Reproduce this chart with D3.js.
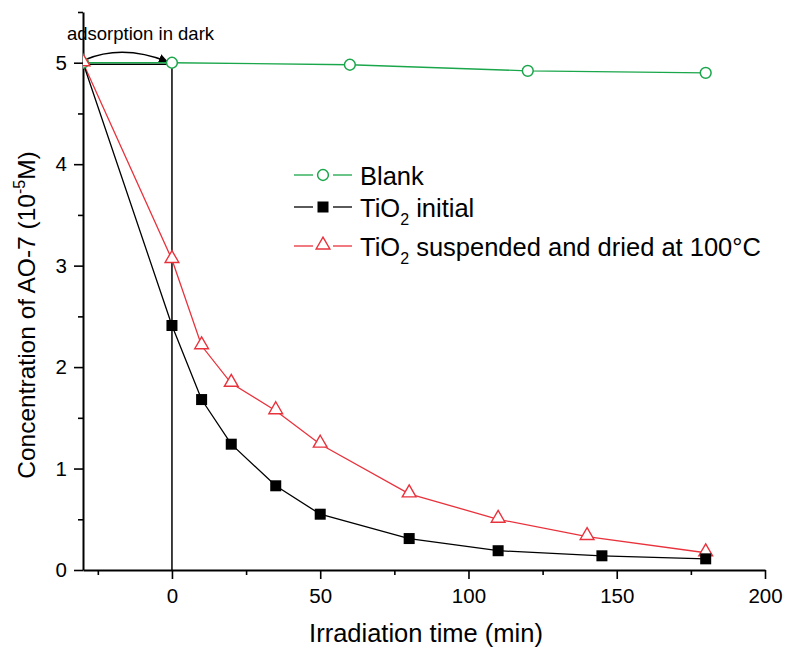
<!DOCTYPE html>
<html>
<head>
<meta charset="utf-8">
<script src="https://cdn.jsdelivr.net/npm/d3@7.9.0/dist/d3.min.js"></script>
<style>
  body { margin: 0; background: #fff; }
  svg { display: block; font-family: "Liberation Sans", Arial, sans-serif; }
</style>
</head>
<body>
<svg width="787" height="648"></svg>
<script>
// data
const blankTime = [-30, 0, 60, 120, 180];
const blankConc = [5.0, 5.0, 4.98, 4.92, 4.90];

const initialTime = [-30, 0, 10, 20, 35, 50, 80, 110, 145, 180];
const initialConc = [5.0, 2.41, 1.68, 1.24, 0.83, 0.55, 0.31, 0.19, 0.14, 0.11];

const suspTime = [-30, 0, 10, 20, 35, 50, 80, 110, 140, 180];
const suspConc = [5.0, 3.06, 2.21, 1.84, 1.57, 1.24, 0.75, 0.50, 0.33, 0.17];

const xTicks = [0, 50, 100, 150, 200];
const xMinor = [-25, 25, 75, 125, 175];
const yTicks = [0, 1, 2, 3, 4, 5];
const yMinor = [0.5, 1.5, 2.5, 3.5, 4.5, 5.5];

const green = "#1aa64a", red = "#e8323c";
const font = "'Liberation Sans', Arial, sans-serif";

let svg = d3.select("svg");

let x = d3.scaleLinear().domain([-30, 200]).range([83, 765]);
let y = d3.scaleLinear().domain([0, 5.5]).range([570, 12]);

let defs = svg.append("defs");
// arrow marker
defs.append("marker")
    .attr("id", "arr")
    .attr("viewBox", "0 0 10 10")
    .attr("refX", 10).attr("refY", 5)
    .attr("markerWidth", 6).attr("markerHeight", 6)
    .attr("orient", "auto")
    .append("path").attr("d", "M0,0 L10,5 L0,10 z").attr("fill", "#000");
// markers get cut at the left axis, like in the original plot
defs.append("clipPath").attr("id", "plotclip")
    .append("rect")
    .attr("x", x(-30)).attr("y", y(5.5))
    .attr("width", x(200) - x(-30)).attr("height", y(0) - y(5.5));

// axes
svg.append("g").attr("transform", `translate(0,${y(0)})`)
    .call(d3.axisBottom(x).tickValues(xTicks).tickFormat(d3.format("d"))
        .tickSize(9).tickSizeOuter(0).tickPadding(9));
svg.append("g").attr("transform", `translate(0,${y(0)})`)
    .call(d3.axisBottom(x).tickValues(xMinor).tickSize(5).tickFormat(""))
    .select(".domain").remove();

svg.append("g").attr("transform", `translate(${x(-30)},0)`)
    .call(d3.axisLeft(y).tickValues(yTicks).tickFormat(d3.format("d"))
        .tickSize(9).tickSizeOuter(0).tickPadding(7));
svg.append("g").attr("transform", `translate(${x(-30)},0)`)
    .call(d3.axisLeft(y).tickValues(yMinor).tickSize(5).tickFormat(""))
    .select(".domain").remove();

svg.selectAll(".domain").attr("stroke-width", 2);
svg.selectAll(".tick line").attr("stroke-width", 1.6);
svg.selectAll(".tick text").attr("font-size", 20.5).attr("fill", "#000")
    .attr("font-family", font);

// dark/irradiation divider and annotation
svg.append("line")
    .attr("x1", x(0)).attr("x2", x(0))
    .attr("y1", y(5)).attr("y2", y(0))
    .attr("stroke", "#000").attr("stroke-width", 1.5);
svg.append("line")
    .attr("x1", x(-30)).attr("x2", x(0))
    .attr("y1", y(5) + 1.5).attr("y2", y(5) + 1.5)
    .attr("stroke", "#000").attr("stroke-width", 1.5);
svg.append("path")
    .attr("d", `M${x(-30) + 2},${y(5) - 3} Q${(x(-30) + x(0)) / 2 - 5},${y(5) - 19} ${x(0) - 4},${y(5) - 1}`)
    .attr("fill", "none").attr("stroke", "#000").attr("stroke-width", 1.5)
    .attr("marker-end", "url(#arr)");
svg.append("text")
    .attr("x", 67).attr("y", 40)
    .attr("font-size", 18.5)
    .text("adsorption in dark");

// series
let line = d3.line().x(d => x(d[0])).y(d => y(d[1]));

let blank = d3.zip(blankTime, blankConc);
let initial = d3.zip(initialTime, initialConc);
let susp = d3.zip(suspTime, suspConc);

svg.append("path").datum(blank).attr("d", line)
    .attr("fill", "none").attr("stroke", green).attr("stroke-width", 1.3);
svg.append("path").datum(susp).attr("d", line)
    .attr("fill", "none").attr("stroke", red).attr("stroke-width", 1.3);
svg.append("path").datum(initial).attr("d", line)
    .attr("fill", "none").attr("stroke", "#000").attr("stroke-width", 1.3);

let tri = d3.symbol().type(d3.symbolTriangle).size(82);
let marks = svg.append("g").attr("clip-path", "url(#plotclip)");

marks.selectAll(".blank").data(blank).join("circle")
    .attr("cx", d => x(d[0])).attr("cy", d => y(d[1])).attr("r", 5.4)
    .attr("fill", "#fff").attr("stroke", green).attr("stroke-width", 1.5);
marks.selectAll(".susp").data(susp).join("path")
    .attr("d", tri)
    .attr("transform", d => `translate(${x(d[0])},${y(d[1]) - 1})`)
    .attr("fill", "#fff").attr("stroke", red).attr("stroke-width", 1.4);
// the dark-phase square is hidden under the other marks in the original
marks.selectAll(".init").data(initial.slice(1)).join("rect")
    .attr("x", d => x(d[0]) - 5.5).attr("y", d => y(d[1]) - 5.5)
    .attr("width", 11).attr("height", 11)
    .attr("fill", "#000");

// legend
const legendNames = ["Blank", "TiO", "TiO"];
const legendRest = ["", " initial", " suspended and dried at 100°C"];
const legendY = [175, 207, 246];
const legendColor = [green, "#000", red];

legendNames.forEach((name, i) => {
    let g = svg.append("g").attr("transform", `translate(294,${legendY[i]})`);
    g.append("line").attr("x1", 0).attr("x2", 19).attr("stroke", legendColor[i]).attr("stroke-width", 1.3);
    g.append("line").attr("x1", 39).attr("x2", 58).attr("stroke", legendColor[i]).attr("stroke-width", 1.3);
    if (i === 0) {
        g.append("circle").attr("cx", 29).attr("cy", 0).attr("r", 5.4)
            .attr("fill", "#fff").attr("stroke", green).attr("stroke-width", 1.5);
    } else if (i === 1) {
        g.append("rect").attr("x", 23.5).attr("y", -5.5).attr("width", 11).attr("height", 11).attr("fill", "#000");
    } else {
        g.append("path").attr("d", tri).attr("transform", "translate(29,-1)")
            .attr("fill", "#fff").attr("stroke", red).attr("stroke-width", 1.4);
    }
    let t = g.append("text").attr("x", 66).attr("y", 10).attr("font-size", 25.5).text(name);
    if (i > 0) {
        t.append("tspan").attr("font-size", 16).attr("dy", 8).text("2");
        t.append("tspan").attr("dy", -8).text(legendRest[i]);
    }
});

// axis titles
svg.append("text")
    .attr("x", 426).attr("y", 642)
    .attr("text-anchor", "middle").attr("font-size", 25.5)
    .text("Irradiation time (min)");

let yt = svg.append("text")
    .attr("transform", "translate(35,315) rotate(-90)")
    .attr("text-anchor", "middle").attr("font-size", 24.5)
    .text("Concentration of AO-7 (10");
yt.append("tspan").attr("font-size", 16).attr("dy", -10).text("-5");
yt.append("tspan").attr("dy", 10).text("M)");
</script>
</body>
</html>
